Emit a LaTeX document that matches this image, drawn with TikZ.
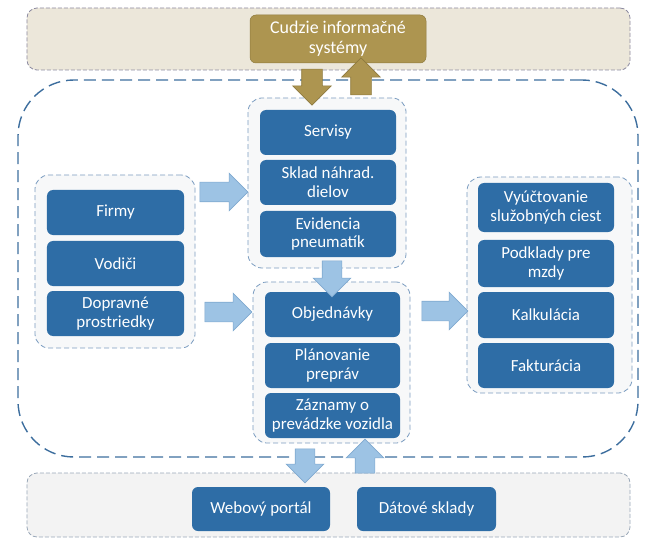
\documentclass[tikz,border=0pt]{standalone}
\usepackage{fontspec}
\setmainfont{Carlito}
\usetikzlibrary{shapes.arrows}
\definecolor{boxblue}{HTML}{2E6DA6}
\definecolor{lightarrow}{HTML}{9DC3E4}
\definecolor{lightarrowedge}{HTML}{7FA9CF}
\definecolor{khaki}{HTML}{AD9550}
\definecolor{khakiedge}{HTML}{8E7A3E}
\definecolor{bandtop}{HTML}{ECE7DA}
\definecolor{bandtopedge}{HTML}{8C8AA0}
\definecolor{bandbot}{HTML}{F3F3F3}
\definecolor{bandbotedge}{HTML}{9AA8B8}
\definecolor{outeredge}{HTML}{3D6E9E}
\definecolor{grpedge}{HTML}{7B9CC0}
\definecolor{grpfill}{HTML}{F7F8F9}
\tikzset{
  blk/.style={fill=boxblue, text=white, rounded corners=6bp, align=center,
    font=\fontsize{17}{19}\selectfont, inner sep=0pt},
  grp/.style={draw=grpedge, dashed, dash pattern=on 5bp off 3bp, line width=0.8bp,
    rounded corners=14bp, fill=grpfill},
  blarrow/.style={single arrow, draw=lightarrowedge, fill=lightarrow, line width=0.6bp,
    single arrow head extend=9bp, inner sep=9.5bp, single arrow tip angle=90},
  goldarrow/.style={single arrow, draw=khakiedge, fill=khaki, line width=0.6bp,
    single arrow head extend=9bp, inner sep=10bp, single arrow tip angle=90},
}
\newcommand\bx[6]{\node[blk, minimum width=#4bp-#2bp, minimum height=#5bp-#3bp] (#1) at ({(#2+#4)/2},{(#3+#5)/2}) {#6};}
\newcommand\grect[5]{\node[grp, minimum width=#4bp-#2bp, minimum height=#5bp-#3bp] (#1) at ({(#2+#4)/2},{(#3+#5)/2}) {};}
\begin{document}
\begin{tikzpicture}[x=1bp, y=-1bp]
\useasboundingbox (0,0) rectangle (646,541);
% bands
\node[draw=bandtopedge, fill=bandtop, dashed, dash pattern=on 4bp off 2bp, line width=0.8bp,
  rounded corners=10bp, minimum width=603bp, minimum height=62bp] (topband) at (328.5,39) {};
\node[draw=bandbotedge, fill=bandbot, dashed, dash pattern=on 4bp off 2bp, line width=0.8bp,
  rounded corners=10bp, minimum width=603bp, minimum height=64bp] (botband) at (328.5,505) {};
% outer region
\node[draw=outeredge, dashed, dash pattern=on 12bp off 6bp, line width=1.4bp,
  rounded corners=56bp, minimum width=620bp, minimum height=377bp] (outer) at (328,268.5) {};
% top external
\node[fill=khaki, draw=khakiedge, line width=0.5bp, text=white, rounded corners=6bp, align=center,
  font=\fontsize{18}{20}\selectfont, minimum width=176bp, minimum height=48bp, inner sep=0pt]
  (cudzie) at (338,39) {Cudzie informačné\\systémy};
% groups
\grect{gleft}{35}{175}{195}{348}
\grect{gserv}{248}{98}{406}{268}
\grect{gobj}{253}{282}{410}{443}
\grect{gright}{467}{177}{632}{393}
% boxes
\bx{firmy}{47}{190}{184}{235}{Firmy}
\bx{vodici}{47}{241}{184}{286}{Vodiči}
\bx{doprav}{47}{291}{184}{336}{Dopravné\\prostriedky}
\bx{servisy}{260}{110}{396}{155}{Servisy}
\bx{sklad}{260}{160}{396}{205}{Sklad náhrad.\\dielov}
\bx{evid}{260}{211}{396}{257}{Evidencia\\pneumatík}
\bx{objed}{265}{292}{400}{337}{Objednávky}
\bx{plan}{265}{343}{400}{388}{Plánovanie\\prepráv}
\bx{zazn}{265}{393}{400}{438}{Záznamy o\\prevádzke vozidla}
\bx{vyuct}{478}{183}{614}{232}{Vyúčtovanie\\služobných ciest}
\bx{podkl}{478}{240}{614}{287}{Podklady pre\\mzdy}
\bx{kalk}{478}{292}{614}{338}{Kalkulácia}
\bx{faktur}{478}{343}{614}{388}{Fakturácia}
\bx{web}{192}{487}{330}{531}{Webový portál}
\bx{datove}{357}{487}{496}{531}{Dátové sklady}
% block arrows
\node[blarrow, minimum height=48bp] (a1) at (219,192) {};
\node[blarrow, minimum height=47bp] (a2) at (223.5,312) {};
\node[blarrow, minimum height=46bp] (a3) at (440,311) {};
\node[blarrow, minimum height=36bp, shape border rotate=270] (a4) at (332,274) {};
\node[blarrow, minimum height=34bp, shape border rotate=270] (a5) at (305,461) {};
\node[blarrow, minimum height=34bp, shape border rotate=90] (a6) at (365,461) {};
\node[goldarrow, minimum height=36bp, shape border rotate=270] (g1) at (312,82) {};
\node[goldarrow, minimum height=37bp, shape border rotate=90] (g2) at (361,81.5) {};
\end{tikzpicture}
\end{document}
